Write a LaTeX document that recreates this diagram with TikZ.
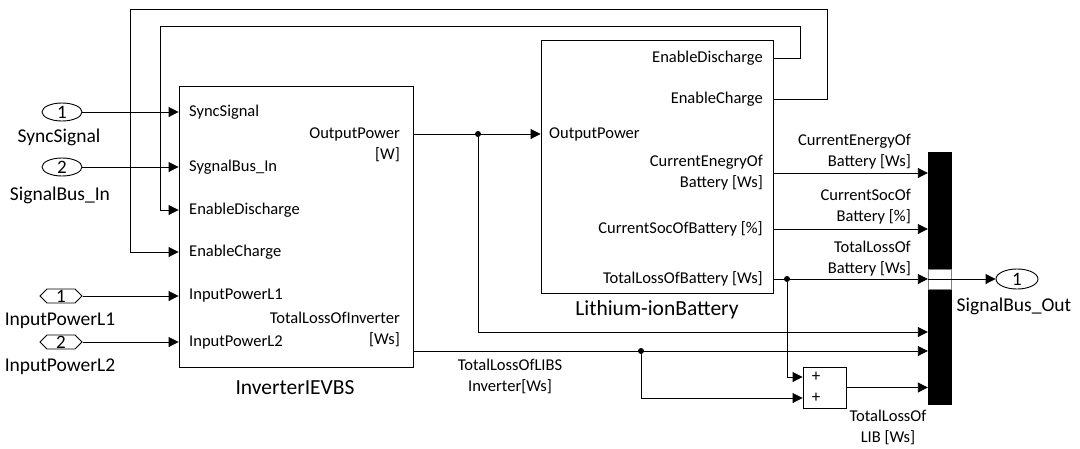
\documentclass[tikz,border=0pt]{standalone}
\usepackage{fontspec}
\setmainfont{Carlito}
\usetikzlibrary{shapes.geometric,shapes.symbols,arrows.meta}
\begin{document}
\begin{tikzpicture}[x=1pt,y=-1pt,
  wire/.style={line width=0.9pt},
  arr/.style={wire,-{Triangle[length=10pt,width=10pt]}},
  blk/.style={draw,line width=0.9pt,inner sep=0pt},
  lbl/.style={font=\fontsize{16.5}{21}\selectfont,inner sep=0pt},
  plbl/.style={font=\fontsize{19.5}{22}\selectfont,inner sep=0pt},
  big/.style={font=\fontsize{21.5}{25}\selectfont,inner sep=0pt},
  inport/.style={draw,ellipse,line width=0.9pt,minimum width=40pt,minimum height=18pt,inner sep=0pt,font=\fontsize{19}{19}\selectfont},
  hexport/.style={draw,signal,signal to=west and east,line width=0.9pt,minimum width=42pt,minimum height=14pt,inner sep=0pt,font=\fontsize{19}{19}\selectfont},
  dot/.style={circle,fill,inner sep=0pt,minimum size=6pt},
  pls/.style={font=\fontsize{17}{17}\selectfont,inner sep=0pt}
]
\useasboundingbox (0,0) rectangle (1080,448);

% ports
\node[inport] (in1) at (62,112) {1};
\node[plbl] (in1l) at (59,137) {SyncSignal};
\node[inport] (in2) at (62,167) {2};
\node[plbl] (in2l) at (60,195) {SignalBus\_In};
\node[hexport] (ip1) at (61,296) {1};
\node[plbl] (ip1l) at (60,321) {InputPowerL1};
\node[hexport] (ip2) at (61,342) {2};
\node[plbl] (ip2l) at (60,367) {InputPowerL2};

% blocks
\node[blk,minimum width=234pt,minimum height=281pt] (inv) at (296,226.5) {};
\node[big] (invl) at (295,388) {InverterIEVBS};
\node[blk,minimum width=232pt,minimum height=253pt] (bat) at (657,166.5) {};
\node[big] (batl) at (657,310) {Lithium-ionBattery};
\node[blk,minimum width=43pt,minimum height=41pt] (sum) at (824.5,387.5) {};
\node[pls] (sp1) at (816,377) {+};
\node[pls] (sp2) at (816,398) {+};
\node[fill=black,minimum width=24pt,minimum height=253pt,inner sep=0pt] (bus) at (940,278.5) {};
\node[inport,minimum width=42pt,minimum height=20pt] (out) at (1017,279) {1};
\node[plbl] (outl) at (1014,306) {SignalBus\_Out};

% inverter port labels
\node[lbl,anchor=west] (i1) at (189,112) {SyncSignal};
\node[lbl,anchor=west] (i2) at (189,167) {SygnalBus\_In};
\node[lbl,anchor=west] (i3) at (189,210) {EnableDischarge};
\node[lbl,anchor=west] (i4) at (189,252) {EnableCharge};
\node[lbl,anchor=west] (i5) at (189,296) {InputPowerL1};
\node[lbl,anchor=west] (i6) at (189,342) {InputPowerL2};
\node[lbl,anchor=east,align=right] (i7) at (400,144.5) {OutputPower\\{[W]}};
\node[lbl,anchor=east,align=right] (i8) at (400,329) {TotalLossOfInverter\\{[Ws]}};

% battery port labels
\node[lbl,anchor=east] (b1) at (763,58) {EnableDischarge};
\node[lbl,anchor=east] (b2) at (763,99) {EnableCharge};
\node[lbl,anchor=west] (b3) at (549,134) {OutputPower};
\node[lbl,anchor=east,align=right] (b4) at (763,172.5) {CurrentEnegryOf\\Battery [Ws]};
\node[lbl,anchor=east] (b5) at (763,229) {CurrentSocOfBattery [\%]};
\node[lbl,anchor=east] (b6) at (763,279) {TotalLossOfBattery [Ws]};

% signal labels
\node[lbl,anchor=east,align=right] (t1) at (911,151.5) {CurrentEnergyOf\\Battery [Ws]};
\node[lbl,anchor=east,align=right] (t2) at (911,206.5) {CurrentSocOf\\Battery [\%]};
\node[lbl,anchor=east,align=right] (t3) at (911,259) {TotalLossOf\\Battery [Ws]};
\node[lbl,align=center] (t4) at (510,376) {TotalLossOfLIBS\\Inverter[Ws]};
\node[lbl,align=center] (t5) at (888,427) {TotalLossOf\\LIB [Ws]};

% junctions
\node[dot] (j1) at (478,134) {};
\node[dot] (j2) at (641,351) {};
\node[dot] (j3) at (787,279) {};

% wires
\draw[arr] (in1.east) -- (in1.east -| inv.west);
\draw[arr] (in2.east) -- (in2.east -| inv.west);
\draw[arr] (ip1.east) -- (ip1.east -| inv.west);
\draw[arr] (ip2.east) -- (ip2.east -| inv.west);
\draw[arr] (bat.east |- 0,58) -- (800,58) -- (800,26) -- (160,26) -- (160,210) -- (inv.west |- 0,210);
\draw[arr] (bat.east |- 0,99) -- (827,99) -- (827,9) -- (130,9) -- (130,252) -- (inv.west |- 0,252);
\draw[arr] (inv.east |- 0,134) -- (bat.west |- 0,134);
\draw[arr] (j1) -- (478,332) -- (bus.west |- 0,332);
\draw[arr] (inv.east |- 0,351) -- (bus.west |- 0,351);
\draw[arr] (j2) -- (641,398) -- (sum.west |- 0,398);
\draw[arr] (bat.east |- 0,173) -- (bus.west |- 0,173);
\draw[arr] (bat.east |- 0,229) -- (bus.west |- 0,229);
\draw[arr] (bat.east |- 0,279) -- (bus.west |- 0,279);
\draw[arr] (j3) -- (787,377) -- (sum.west |- 0,377);
\draw[arr] (sum.east) -- (sum.east -| bus.west);
\draw[fill=white,draw=gray,line width=0.6pt] (928.5,269) rectangle (951.5,289);
\draw[arr] (bus.west |- 0,279) -- (out.west);
\end{tikzpicture}
\end{document}
